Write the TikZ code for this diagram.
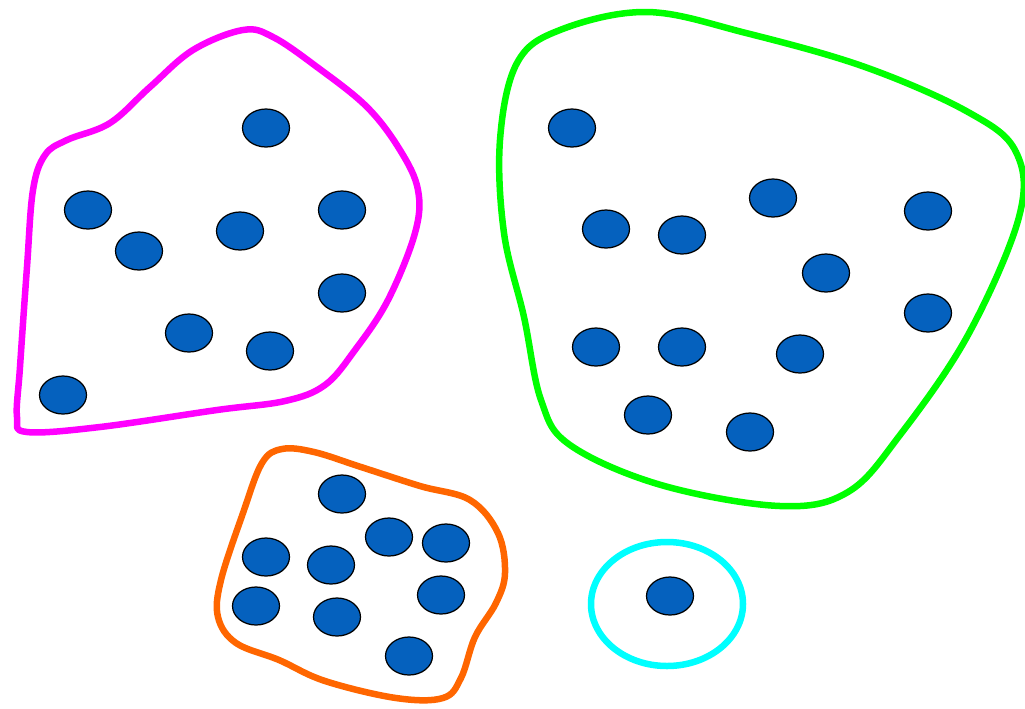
\documentclass[tikz,border=0pt]{standalone}
\usepackage{tikz}
\usetikzlibrary{calc}
\usepackage{xcolor}
\definecolor{cmag}{RGB}{255,0,255}
\definecolor{cgreen}{RGB}{0,255,0}
\definecolor{corange}{RGB}{255,102,0}
\definecolor{ccyan}{RGB}{0,255,255}
\definecolor{cdot}{RGB}{5,97,190}
\begin{document}
\begin{tikzpicture}[x=0.02cm,y=-0.02cm,
    hull/.style={line width=3.7pt,line join=round},
    dot/.style={draw=black,fill=cdot,line width=0.7pt}]
  \useasboundingbox (0,0) rectangle (1025,708);
  % magenta cluster
  \draw[hull,cmag] plot[smooth cycle,tension=0.6] coordinates {
    (243,30) (193,50) (150,87) (110,123) (67,140) (45,155) (33,190)
    (27,267) (20,367) (17,417) (27,432) (100,427) (217,410) (285,401)
    (325,385) (355,350) (388,300) (415,233) (418,190) (400,150)
    (367,107) (317,67) (273,37)};
  \foreach \p in {(266,128),(88,210),(139,251),(240,231),(342,210),
                  (342,293),(189,333),(270,351),(63,395)}
    {\draw[dot] \p ellipse[x radius=23.5,y radius=19];}
  % green cluster
  \draw[hull,cgreen] plot[smooth cycle,tension=0.6] coordinates {
    (647,12) (560,30) (517,63) (500,140) (504,233) (524,317) (541,400)
    (570,445) (661,485) (780,506) (848,492) (900,435) (968,335)
    (1019,217) (1016,152) (968,112) (865,67) (746,33)};
  \foreach \p in {(572,128),(606,229),(682,235),(773,198),(928,211),
                  (826,273),(928,313),(596,347),(682,347),(800,354),
                  (648,415),(750,432)}
    {\draw[dot] \p ellipse[x radius=23.5,y radius=19];}
  % orange cluster
  \draw[hull,corange] plot[smooth cycle,tension=0.6] coordinates {
    (282,449) (262,463) (243,513) (221,580) (218,617) (236,643)
    (279,660) (325,681) (396,698) (443,698) (461,678) (475,637)
    (496,603) (505,573) (498,533) (470,500) (420,486) (361,467)
    (314,452)};
  \foreach \p in {(342,494),(389,537),(446,543),(266,557),(331,565),
                  (441,595),(256,606),(337,617),(409,656)}
    {\draw[dot] \p ellipse[x radius=23.5,y radius=19];}
  % cyan cluster
  \draw[hull,ccyan] (667,604) ellipse[x radius=76,y radius=62];
  \draw[dot] (670,596) ellipse[x radius=23.5,y radius=19];
\end{tikzpicture}
\end{document}
